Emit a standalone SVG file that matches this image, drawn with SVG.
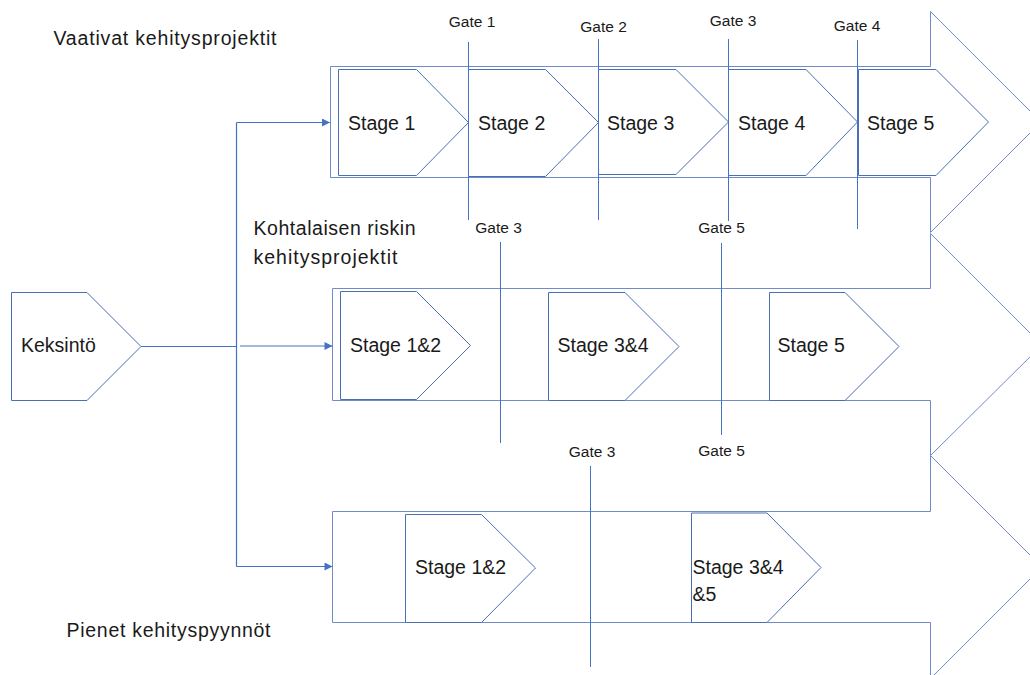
<svg xmlns="http://www.w3.org/2000/svg" width="1030" height="675" viewBox="0 0 1030 675">
<defs>
<style>
.big{fill:#fff;stroke:#6f8cc8;stroke-width:1}
.stg{fill:#fff;stroke:#4a6fb5;stroke-width:1}
.gate{stroke:#4472c4;stroke-width:1;fill:none}
.con{stroke:#4472c4;stroke-width:1.2;fill:none}
.t{font-family:"Liberation Sans",Arial,sans-serif;fill:#1a1a1a}
.lbl{font-size:19.5px}
.gl{font-size:15.5px;text-anchor:middle}
</style>
<marker id="ah" viewBox="0 0 10 10" refX="10" refY="5" markerWidth="9" markerHeight="8" markerUnits="userSpaceOnUse" orient="auto">
<path d="M0,0 L10,5 L0,10 z" fill="#4472c4"/>
</marker>
</defs>

<g id="track-top"><polygon class="big" points="330.5,66.5 930.5,66.5 930.5,11.5 1041,122 930.5,232.5 930.5,177.5 330.5,177.5"/></g>
<g id="track-mid"><polygon class="big" points="332.5,288.5 930.5,288.5 930.5,233.5 1042,345 930.5,455.5 930.5,400.5 332.5,400.5"/></g>
<g id="track-bot"><polygon class="big" points="332.5,511.5 930.5,511.5 930.5,455.5 1042,567 930.5,678.5 930.5,622.5 332.5,622.5"/></g>

<g id="keksinto"><polygon class="stg" points="11.5,292.5 87,292.5 141,346.5 87,400.5 11.5,400.5"/><text class="t lbl" x="21" y="352">Keksintö</text></g>

<g id="top-stage1"><polygon class="stg" points="338.5,69.5 416.5,69.5 468.5,122.5 416.5,175.5 338.5,175.5"/><text class="t lbl" x="348" y="129.5">Stage 1</text></g>
<g id="top-stage2"><polygon class="stg" points="468.5,69.5 545.5,69.5 598.5,122.5 545.5,176.5 468.5,176.5"/><text class="t lbl" x="478" y="129.5">Stage 2</text></g>
<g id="top-stage3"><polygon class="stg" points="598.5,69.5 676,69.5 728.5,122 676,174.5 598.5,174.5"/><text class="t lbl" x="607" y="129.5">Stage 3</text></g>
<g id="top-stage4"><polygon class="stg" points="728.5,69.5 806,69.5 857.5,122 806,175.5 728.5,175.5"/><text class="t lbl" x="738" y="129.5">Stage 4</text></g>
<g id="top-stage5"><polygon class="stg" points="858.5,69.5 936,69.5 988.5,122 936,175.5 858.5,175.5"/><text class="t lbl" x="867" y="129.5">Stage 5</text></g>

<g id="mid-stage12"><polygon class="stg" points="340.5,291.5 416.5,291.5 470.5,345.5 416.5,399.5 340.5,399.5"/><text class="t lbl" x="350" y="351.5">Stage 1&amp;2</text></g>
<g id="mid-stage34"><polygon class="stg" points="548.5,292.5 625,292.5 679,346.5 625,400.5 548.5,400.5"/><text class="t lbl" x="557.5" y="351.5">Stage 3&amp;4</text></g>
<g id="mid-stage5"><polygon class="stg" points="769.5,292.5 845,292.5 899,346.5 845,400.5 769.5,400.5"/><text class="t lbl" x="777.5" y="351.5">Stage 5</text></g>

<g id="bot-stage12"><polygon class="stg" points="405.5,514.5 481.5,514.5 535.5,568 481.5,622.5 405.5,622.5"/><text class="t lbl" x="415" y="573.5">Stage 1&amp;2</text></g>
<g id="bot-stage345"><polygon class="stg" points="691.5,513 767,513 821,567.5 767,622.5 691.5,622.5"/><text class="t lbl" x="692.5" y="573.5">Stage 3&amp;4</text><text class="t lbl" x="692.5" y="600.5">&amp;5</text></g>

<g id="gates">
<line class="gate" x1="468.5" y1="42" x2="468.5" y2="220"/>
<line class="gate" x1="598.5" y1="39" x2="598.5" y2="220"/>
<line class="gate" x1="728.5" y1="39" x2="728.5" y2="221"/>
<line class="gate" x1="857.5" y1="40" x2="857.5" y2="229"/>
<line class="gate" x1="500.5" y1="242" x2="500.5" y2="443"/>
<line class="gate" x1="721.5" y1="243" x2="721.5" y2="435"/>
<line class="gate" x1="590.5" y1="466" x2="590.5" y2="667"/>
<text class="t gl" x="472" y="27">Gate 1</text>
<text class="t gl" x="603.5" y="31.5">Gate 2</text>
<text class="t gl" x="733" y="26">Gate 3</text>
<text class="t gl" x="857" y="30.5">Gate 4</text>
<text class="t gl" x="498.5" y="233">Gate 3</text>
<text class="t gl" x="721.5" y="232.5">Gate 5</text>
<text class="t gl" x="721.5" y="456">Gate 5</text>
<text class="t gl" x="592" y="457">Gate 3</text>
</g>

<g id="connectors">
<path class="con" d="M141,346.5 H236.5"/>
<path class="con" d="M236.5,122.5 V566.5"/>
<path class="con" d="M236.5,122.5 H330" marker-end="url(#ah)"/>
<path class="con" d="M240,346 H332.5" marker-end="url(#ah)"/>
<path class="con" d="M236.5,566.5 H332.5" marker-end="url(#ah)"/>
</g>

<g id="labels">
<text class="t lbl" x="53.5" y="44.5" textLength="223" lengthAdjust="spacing">Vaativat kehitysprojektit</text>
<text class="t lbl" x="253.5" y="235" textLength="162" lengthAdjust="spacing">Kohtalaisen riskin</text>
<text class="t lbl" x="253.5" y="263.5" textLength="144" lengthAdjust="spacing">kehitysprojektit</text>
<text class="t lbl" x="66.5" y="637" textLength="204" lengthAdjust="spacing">Pienet kehityspyynnöt</text>
</g>
</svg>
